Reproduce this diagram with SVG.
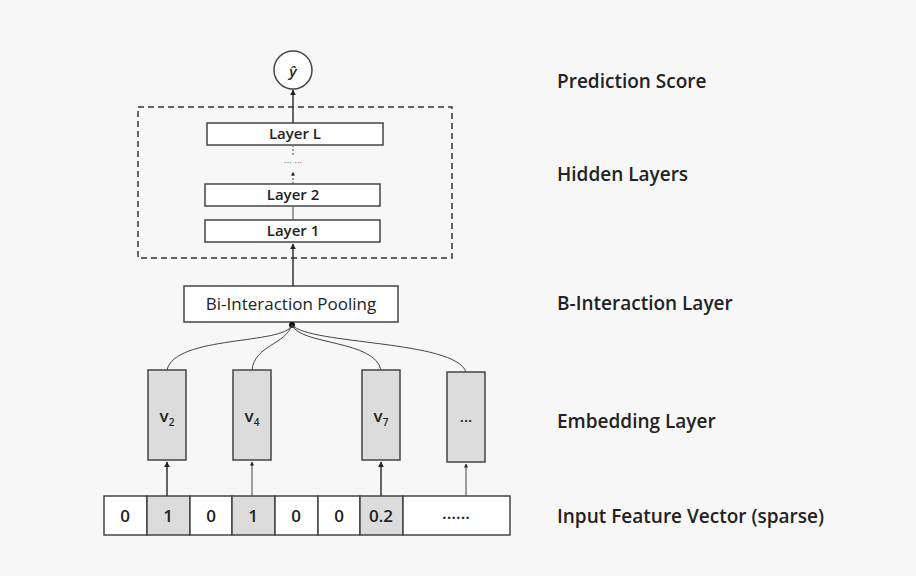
<svg xmlns="http://www.w3.org/2000/svg" width="916" height="576" viewBox="0 0 916 576">
<defs>
<marker id="ah" viewBox="0 0 10 10" refX="9" refY="5" markerWidth="4" markerHeight="4" orient="auto"><path d="M0,0L10,5L0,10z" fill="#222"/></marker>
<style>
text{font-family:"Open Sans","Liberation Sans",sans-serif;fill:#222}
.b{fill:#fff;stroke:#444;stroke-width:1.5}
.g{fill:#dcdcdc;stroke:#444;stroke-width:1.5}
.l{stroke:#333;stroke-width:1.5;fill:none}
.c{stroke:#444;stroke-width:1;fill:none}
.lab{font-size:19px;font-weight:600}
.t{font-size:15px;text-anchor:middle;font-weight:600}
.n{font-size:17px;font-weight:600;text-anchor:middle}
</style>
</defs>
<rect width="916" height="576" fill="#f7f7f7"/>
<g id="output"><circle cx="293" cy="70" r="19" class="b"/><text x="293" y="77" class="t" font-style="italic" font-size="18">ŷ</text></g>
<g id="hidden"><rect x="138" y="107" width="314" height="151" fill="none" stroke="#333" stroke-width="1.5" stroke-dasharray="6,4"/>
<rect x="207" y="123" width="176" height="22" class="b"/><text x="295" y="139" class="t">Layer L</text>
<text x="293" y="166" text-anchor="middle" font-size="10" style="fill:#888">··· ···</text>
<rect x="205" y="184" width="175" height="22" class="b"/><text x="293" y="200" class="t">Layer 2</text>
<rect x="205" y="220" width="175" height="22" class="b"/><text x="293" y="236" class="t">Layer 1</text></g>
<g id="bi"><rect x="184" y="286" width="214" height="36" class="b"/><text x="291" y="310" text-anchor="middle" style="font-size:17px;font-weight:400">Bi-Interaction Pooling</text></g>
<g id="emb">
<rect x="148" y="370" width="38" height="90" class="g"/><text x="167" y="422" class="n">v<tspan font-size="10" dy="4">2</tspan></text>
<rect x="233" y="370" width="38" height="90" class="g"/><text x="252" y="422" class="n">v<tspan font-size="10" dy="4">4</tspan></text>
<rect x="362" y="370" width="38" height="90" class="g"/><text x="381" y="422" class="n">v<tspan font-size="10" dy="4">7</tspan></text>
<rect x="447" y="372" width="38" height="90" class="g"/><text x="466" y="422" class="t">...</text>
</g>
<g id="input">
<rect x="104" y="496" width="43" height="39" class="b"/><text x="125" y="522" class="n">0</text>
<rect x="147" y="496" width="43" height="39" class="g"/><text x="168" y="522" class="n">1</text>
<rect x="190" y="496" width="42" height="39" class="b"/><text x="211" y="522" class="n">0</text>
<rect x="232" y="496" width="43" height="39" class="g"/><text x="253" y="522" class="n">1</text>
<rect x="275" y="496" width="43" height="39" class="b"/><text x="296" y="522" class="n">0</text>
<rect x="318" y="496" width="42" height="39" class="b"/><text x="339" y="522" class="n">0</text>
<rect x="360" y="496" width="43" height="39" class="g"/><text x="381" y="522" class="n">0.2</text>
<rect x="403" y="496" width="107" height="39" class="b"/><text x="456" y="519" class="n">......</text>
</g>
<g id="connectors">
<line x1="293" y1="107" x2="293" y2="90" class="l" marker-end="url(#ah)"/>
<line x1="293" y1="123" x2="293" y2="107" class="l"/>
<line x1="293" y1="184" x2="293" y2="172" class="c" stroke-dasharray="2,2" marker-end="url(#ah)"/>
<line x1="293" y1="155" x2="293" y2="146" class="c" stroke-dasharray="2,2"/>
<line x1="293" y1="220" x2="293" y2="207" class="c"/>
<line x1="293" y1="286" x2="293" y2="244" class="l" marker-end="url(#ah)"/>
<circle cx="292" cy="325" r="3" fill="#111"/>
<path d="M292,325 C285,345 175,335 167,370" class="c"/>
<path d="M292,325 C285,345 255,345 252,370" class="c"/>
<path d="M292,325 C300,345 375,340 381,370" class="c"/>
<path d="M292,325 C310,345 455,340 466,372" class="c"/>
<line x1="167" y1="496" x2="167" y2="462" class="l" marker-end="url(#ah)"/>
<line x1="252" y1="496" x2="252" y2="462" class="c" marker-end="url(#ah)"/>
<line x1="381" y1="496" x2="381" y2="462" class="l" marker-end="url(#ah)"/>
<line x1="466" y1="496" x2="466" y2="464" class="c" marker-end="url(#ah)"/>
</g>
<g id="labels">
<text x="557" y="88" class="lab">Prediction Score</text>
<text x="557" y="181" class="lab">Hidden Layers</text>
<text x="557" y="310" class="lab">B-Interaction Layer</text>
<text x="557" y="428" class="lab">Embedding Layer</text>
<text x="557" y="523" class="lab">Input Feature Vector (sparse)</text>
</g>
</svg>
